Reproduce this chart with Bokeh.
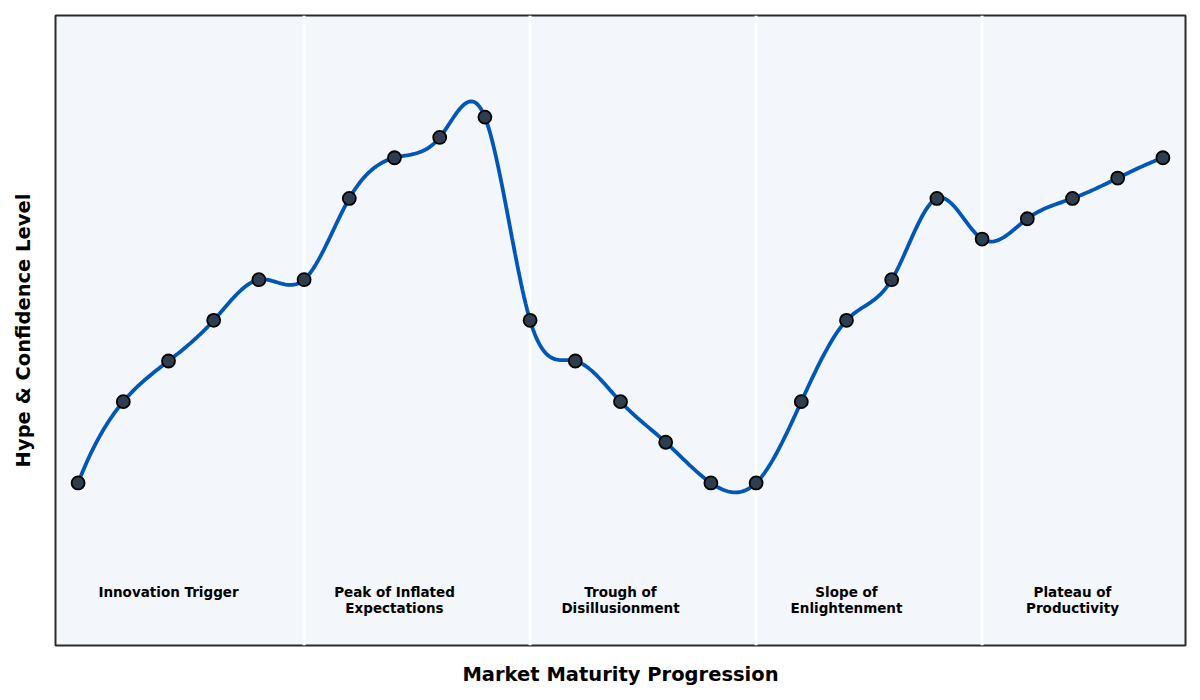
import numpy as np
from bokeh.plotting import figure
from bokeh.models import Span, FixedTicker, ColumnDataSource
from bokeh.core.properties import value
from bokeh.embed import file_html
from bokeh.resources import INLINE

# ---- data ----
stage_index = list(range(25))
hype_level = [20, 30, 35, 40, 45, 45, 55, 60, 62.5, 65,
              40, 35, 30, 25, 20, 20, 30, 40, 45, 55,
              50, 52.5, 55, 57.5, 60]
phase_names = ["Innovation Trigger", "Peak of Inflated\nExpectations",
               "Trough of\nDisillusionment", "Slope of\nEnlightenment",
               "Plateau of\nProductivity"]
phase_centers = [2, 7, 12, 17, 22]
phase_bounds = [5, 10, 15, 20]


def not_a_knot_spline(xs, ys, n_per=30):
    xs = np.asarray(xs, float)
    ys = np.asarray(ys, float)
    n = len(xs)
    h = np.diff(xs)
    A = np.zeros((n, n))
    b = np.zeros(n)
    for i in range(1, n - 1):
        A[i, i - 1] = h[i - 1]
        A[i, i] = 2 * (h[i - 1] + h[i])
        A[i, i + 1] = h[i]
        b[i] = 6 * ((ys[i + 1] - ys[i]) / h[i] - (ys[i] - ys[i - 1]) / h[i - 1])
    A[0, 0], A[0, 1], A[0, 2] = h[1], -(h[0] + h[1]), h[0]
    A[-1, -3], A[-1, -2], A[-1, -1] = h[-1], -(h[-2] + h[-1]), h[-2]
    M = np.linalg.solve(A, b)
    out_x, out_y = [], []
    for i in range(n - 1):
        t = np.linspace(0, 1, n_per, endpoint=(i == n - 2))
        hi = h[i]
        x = xs[i] + t * hi
        a = 1 - t
        y = (a * ys[i] + t * ys[i + 1]
             + ((a ** 3 - a) * M[i] + (t ** 3 - t) * M[i + 1]) * hi ** 2 / 6)
        out_x.extend(x)
        out_y.extend(y)
    return out_x, out_y


curve_x, curve_y = not_a_knot_spline(stage_index, hype_level)

p = figure(width=1192, height=692, output_backend="svg", toolbar_location=None,
           x_range=(-0.5, 24.5), y_range=(0, 77.5),
           min_border_left=55, min_border_right=7, min_border_top=15,
           min_border_bottom=47)
p.background_fill_color = "#f3f6fa"
p.border_fill_color = "white"
p.outline_line_color = "#2b2b2b"
p.outline_line_width = 2
p.xgrid.visible = False
p.ygrid.visible = False

for ax in (p.xaxis[0], p.yaxis[0]):
    ax.ticker = FixedTicker(ticks=[])
    ax.axis_line_color = None
    ax.major_tick_line_color = None
    ax.minor_tick_line_color = None
    ax.major_tick_out = 0
    ax.major_label_standoff = 0
    ax.axis_label_text_font = "DejaVu Sans"
    ax.axis_label_text_font_style = "bold"
    ax.axis_label_text_font_size = "19.5px"
    ax.axis_label_text_color = "black"

p.xaxis.axis_label = "Market Maturity Progression"
p.yaxis.axis_label = "Hype & Confidence Level"
p.xaxis.axis_label_standoff = 17
p.yaxis.axis_label_standoff = 21

for xb in phase_bounds:
    p.add_layout(Span(location=xb, dimension="height", line_color="white",
                      line_width=3, level="underlay"))

p.line(curve_x, curve_y, line_color="#0057b8", line_width=3.8)
p.scatter(stage_index, hype_level, size=13, fill_color="#2f3e4f",
          line_color="black", line_width=1.8)

src = ColumnDataSource(dict(x=phase_centers, y=[7.6] * len(phase_centers),
                            t=phase_names))
p.text(x="x", y="y", text="t", source=src, text_align="center",
       text_baseline="top", text_font=value("DejaVu Sans"),
       text_font_style="bold", text_font_size="13.5px", text_color="black",
       text_line_height=1.0)

open("out.html", "w").write(file_html(p, INLINE))
